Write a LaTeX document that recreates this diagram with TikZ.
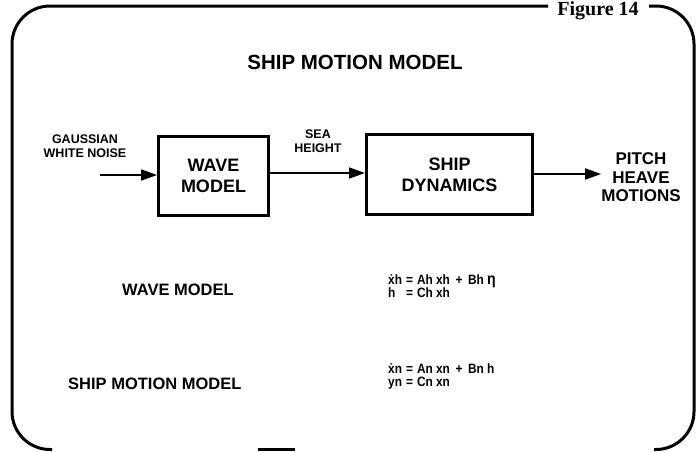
\documentclass[tikz,border=0pt]{standalone}
\usepackage{fontspec}
\setmainfont{Liberation Sans}
\newfontfamily\figfont{Liberation Serif}
\newfontfamily\eqfont[FakeStretch=0.88]{Liberation Sans}
\usetikzlibrary{arrows.meta,positioning}

\begin{document}
\begin{tikzpicture}[x=1pt, y=-1pt, >={Triangle[length=16pt, width=11pt]},
  frame/.style={line width=3pt, rounded corners=38pt},
  blk/.style={draw, line width=3pt, align=center, inner sep=0pt,
    font=\bfseries\fontsize{18}{21}\selectfont},
  lbl/.style={align=center, inner sep=0pt, font=\bfseries\fontsize{12.5}{14}\selectfont},
  eqn/.style={anchor=west, inner sep=0pt, font=\eqfont\bfseries\fontsize{13.5}{14}\selectfont},
  flow/.style={->, line width=1.8pt}]
  \useasboundingbox (0,0) rectangle (698,451);
  % --- Frame ---
  \node[font=\figfont\bfseries\fontsize{20}{20}\selectfont, inner sep=0pt] (fig) at (598,11) {Figure 14};
  \draw[frame] (52,449.5) -- (12,449.5) -- (12,6) -- (548,6);
  \draw[frame] (649,6) -- (694,6) -- (694,449.5) -- (654,449.5);
  \draw[line width=3pt] (258,449.5) -- (295,449.5);
  % --- Title ---
  \node[font=\bfseries\fontsize{20.5}{22}\selectfont] (title) at (355,62) {SHIP MOTION MODEL};
  % --- Block diagram ---
  \coordinate (in) at (100,175);
  \node[blk, minimum width=110pt, minimum height=79pt] (wave) at (213.5,175.5) {WAVE\\MODEL};
  \node[blk, minimum width=166pt, minimum height=80pt] (ship) at (449.5,174.5) {SHIP\\DYNAMICS};
  \node[lbl] (noise) at (85,146) {GAUSSIAN\\WHITE NOISE};
  \node[lbl] (sea) at (318,141) {SEA\\HEIGHT};
  \node[align=center, inner sep=0pt, font=\bfseries\fontsize{17}{18.5}\selectfont] (out) at (641,177.5) {PITCH\\HEAVE\\MOTIONS};
  \draw[flow] (in) -- (wave.west |- in);
  \draw[flow] (wave.east |- 0,173) -- (ship.west |- 0,173);
  \draw[flow] (ship.east |- 0,174) -- (out.west |- 0,174);
  % --- State equations ---
  \node[eqn, font=\bfseries\fontsize{16.5}{18}\selectfont] (wavelbl) at (122,290) {WAVE MODEL};
  \node[eqn] (waveeq) at (388,288) {\begin{tabular}{@{}l@{\hspace{4pt}}c@{\hspace{4pt}}l@{}}
    \.{x}h & = & Ah xh \,+\, Bh {\fontsize{16}{16}\selectfont η}\\[-1pt]
    h & = & Ch xh\end{tabular}};
  \node[eqn, font=\bfseries\fontsize{16.5}{18}\selectfont] (shiplbl) at (68,384) {SHIP MOTION MODEL};
  \node[eqn] (shipeq) at (388,377) {\begin{tabular}{@{}l@{\hspace{4pt}}c@{\hspace{4pt}}l@{}}
    \.{x}n & = & An xn \,+\, Bn h\\[-1pt]
    yn & = & Cn xn\end{tabular}};
\end{tikzpicture}
\end{document}
